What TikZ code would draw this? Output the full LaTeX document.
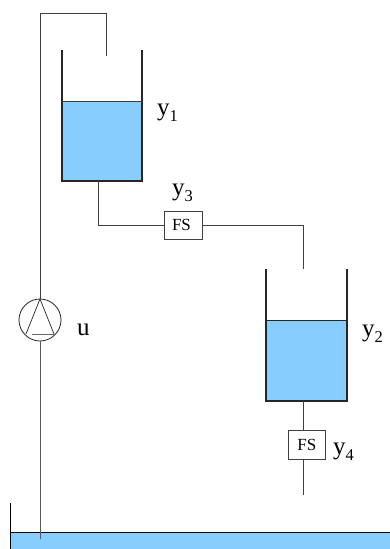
\documentclass[tikz,border=0pt]{standalone}
\usepackage{fontspec}
\setmainfont{Liberation Serif}
\newcommand{\lab}[2]{#1\raisebox{-6pt}{\fontsize{16.5}{17}\selectfont #2}}
\tikzset{
  px/.style={x=1pt,y=-1pt},
  wall/.style={draw=black!85,line width=1.05pt},
  pipe/.style={draw=black!75,line width=0.9pt},
  sensorbox/.style={draw=black!75,line width=0.8pt,fill=white,inner sep=0pt,font=\fontsize{17}{18}\selectfont},
  lbl/.style={inner sep=0pt,anchor=base west,font=\fontsize{25}{27}\selectfont},
  pumpc/.style={circle,draw=black!85,line width=0.8pt,minimum size=42pt,inner sep=0pt},
}
\definecolor{waterblue}{HTML}{87CEFF}
\begin{document}
\begin{tikzpicture}[px]
\useasboundingbox (0,0) rectangle (390,549);
% reservoir
\fill[waterblue] (10.5,532.5) rectangle (390,549);
\draw[line width=0.9pt,black] (390,532.5) -- (10.5,532.5);
\draw[line width=0.9pt,black] (10.5,503) -- (10.5,549);
% tank 1
\fill[waterblue] (62,101) rectangle (142,181);
\draw[wall] (62,50) -- (62,181) -- (142,181) -- (142,50);
\draw[pipe] (62,101) -- (142,101);
% tank 2
\fill[waterblue] (266,320) rectangle (347,401);
\draw[wall] (266,269) -- (266,401) -- (347,401) -- (347,269);
\draw[line width=0.9pt,black!85] (266,320) -- (347,320);
% nodes
\node[sensorbox,minimum width=38pt,minimum height=28pt] (fs1) at (183,225) {FS\hspace*{3pt}};
\node[sensorbox,minimum width=37pt,minimum height=29.5pt] (fs2) at (306.8,445) {FS};
\node[pumpc] (pump) at (40,320) {};
\coordinate (t1out) at (98.5,181);
\coordinate (t1elbow) at (98.5,225);
\coordinate (t2in) at (303,269);
\coordinate (t2elbow) at (303,225);
\coordinate (t2out) at (303,401);
\coordinate (fs2in) at (303,430);
\coordinate (fs2out) at (303,459.7);
\coordinate (drainend) at (303,495);
\coordinate (pumptop) at (40,299);
\coordinate (pumpbot) at (40,341);
\coordinate (suction) at (40,539);
\coordinate (feedA) at (40,13);
\coordinate (feedB) at (106,13);
\coordinate (feedC) at (106,56);
\coordinate (triL) at (26,334);
\coordinate (triR) at (54,334);
% connectors
\draw[pipe] (t1out) -- (t1elbow) -- (fs1.west);
\draw[pipe] (fs1.east) -- (t2elbow) -- (t2in);
\draw[pipe] (t2out) -- (fs2in);
\draw[pipe] (fs2out) -- (drainend);
\draw[pipe] (pumptop) -- (feedA) -- (feedB) -- (feedC);
\draw[pipe,line width=1pt,black!65] (pumpbot) -- (suction);
% pump symbol
\draw[line width=0.7pt,black!85] (triL) -- (pumptop) -- (triR);
\draw[line width=1.2pt,black!60] (32,334.7) -- (54,334.7);
% labels
\node[lbl] (ly1) at (157,115.5) {\lab{y}{1}};
\node[lbl] (ly3) at (172,195) {\lab{y}{3}};
\node[lbl] (lu) at (77,335) {u};
\node[lbl] (ly2) at (362,336) {\lab{y}{2}};
\node[lbl] (ly4) at (333,454) {\lab{y}{4}};
\end{tikzpicture}
\end{document}
